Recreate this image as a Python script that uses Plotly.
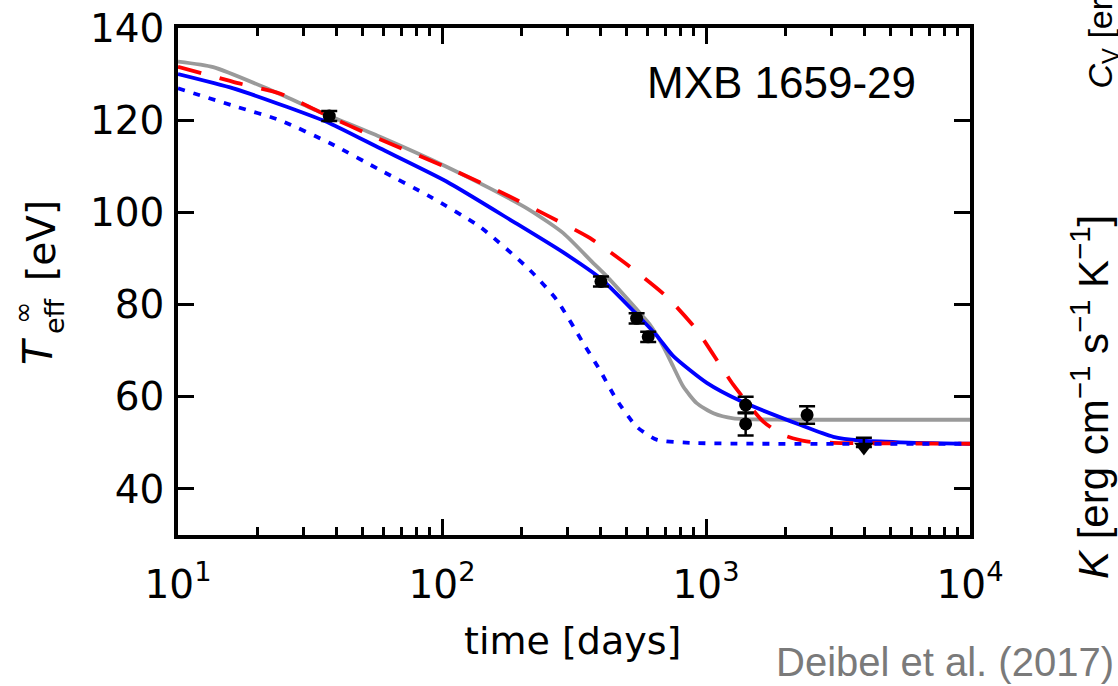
import plotly.graph_objects as go

# --- model cooling curves (time in days, T_eff^inf in eV) ---
gray_t = [10, 13.6, 22.3, 34.5, 58.2, 104, 152, 215, 288, 374, 421, 563, 610, 689, 752, 820, 922, 1067, 1270, 2000, 10000]
gray_T = [132.7, 131.5, 126.6, 121.8, 116.4, 109.9, 105.2, 100.5, 95.5, 89.0, 86.1, 78.1, 75.8, 70.9, 66.5, 62.2, 58.6, 56.4, 55.3, 55.0, 55.0]

blue_t = [10, 16.2, 25.8, 37.7, 58.2, 104, 186, 288, 400, 546, 650, 752, 1007, 1360, 2270, 3037, 3830, 5430, 10000]
blue_T = [130.0, 126.9, 122.9, 119.3, 113.9, 106.7, 98.0, 91.3, 85.6, 77.9, 73.3, 68.8, 63.0, 59.0, 53.9, 51.3, 50.5, 50.1, 49.8]

red_t = [10, 16.7, 24.3, 36.5, 53.3, 114, 171, 249, 364, 515, 710, 922, 1130, 1268, 1648, 1963, 2406, 3037, 10000]
red_T = [131.6, 128.1, 125.8, 121.1, 116.8, 108.8, 104.1, 99.4, 94.4, 88.2, 81.7, 74.5, 66.9, 62.6, 54.6, 51.7, 50.3, 50.0, 49.8]

dot_t = [10, 16.7, 24.3, 37.7, 58.2, 90.1, 139, 215, 272, 343, 396, 459, 546, 650, 869, 10000]
dot_T = [126.9, 122.9, 120.0, 115.0, 109.2, 103.4, 96.9, 87.5, 81.0, 71.6, 65.8, 59.3, 53.5, 50.7, 50.0, 49.8]

# --- observations ---
obs_t = [37.4, 400, 546, 604, 1413, 1413, 2415]
obs_T = [120.9, 85.0, 77.0, 73.0, 58.2, 54.1, 56.05]
obs_err = [1.1, 1.1, 1.1, 1.1, 1.8, 2.5, 1.9]

lim_t = [3963]
lim_T = [49.1]
lim_err = [2.0]

x_tickvals = [10, 100, 1000, 10000]
x_ticktext = ["10<sup>1</sup>", "10<sup>2</sup>", "10<sup>3</sup>", "10<sup>4</sup>"]
y_tickvals = [40, 60, 80, 100, 120, 140]
minor_vals = [m * 10 ** d for d in range(1, 4) for m in range(2, 10)]

TICKFONT = dict(family="DejaVu Sans", size=39, color="black")
SANS = "Liberation Sans"
LW = 3.8

fig = go.Figure()
fig.add_trace(go.Scatter(x=gray_t, y=gray_T, mode="lines", line=dict(color="#9a9a9a", width=LW, shape="spline", smoothing=0.6)))
fig.add_trace(go.Scatter(x=blue_t, y=blue_T, mode="lines", line=dict(color="#0000ff", width=LW, shape="spline", smoothing=0.6)))
fig.add_trace(go.Scatter(x=red_t, y=red_T, mode="lines", line=dict(color="#ff0000", width=LW, dash="24px,19px", shape="spline", smoothing=0.6)))
fig.add_trace(go.Scatter(x=dot_t, y=dot_T, mode="lines", line=dict(color="#0000ff", width=LW, dash="7px,9px", shape="spline", smoothing=0.6)))

fig.add_trace(go.Scatter(
    x=obs_t, y=obs_T, mode="markers",
    marker=dict(symbol="circle", size=13, color="black"),
    error_y=dict(type="data", array=obs_err, color="black", thickness=2.5, width=8),
))
fig.add_trace(go.Scatter(
    x=lim_t, y=lim_T, mode="markers",
    marker=dict(symbol="triangle-down", size=17, color="black"),
    error_y=dict(type="data", symmetric=False, array=lim_err, arrayminus=[0], color="black", thickness=2.5, width=8),
))

# plot area in pixels: x 178..970, y 28..535
def px(x):
    return (x - 178) / 792


def py(y):
    return (535 - y) / 507


ann = []
ann.append(dict(x=px(918), y=py(82), text="MXB 1659-29", xanchor="right", yanchor="middle",
                font=dict(family=SANS, size=44, color="black")))
ann.append(dict(x=px(572), y=py(641), text="time [days]", xanchor="center", yanchor="middle",
                font=dict(family="DejaVu Sans", size=38, color="black")))
# stacked y-axis label pieces
ann.append(dict(x=px(41), y=py(241), text="[eV]", textangle=-90, xanchor="center", yanchor="middle",
                font=dict(family="DejaVu Sans", size=39, color="black")))
ann.append(dict(x=px(38), y=py(351), text="<i>T</i>", textangle=-90, xanchor="center", yanchor="middle",
                font=dict(family="DejaVu Sans", size=40, color="black")))
ann.append(dict(x=px(54), y=py(316), text="eff", textangle=-90, xanchor="center", yanchor="middle",
                font=dict(family="DejaVu Sans", size=27, color="black")))
ann.append(dict(x=px(22), y=py(313), text="∞", textangle=-90, xanchor="center", yanchor="middle",
                font=dict(family="DejaVu Sans", size=27, color="black")))
# neighbouring panel labels and citation
ann.append(dict(x=px(1090), y=py(397), text="<i>K</i> [erg cm<sup>−1</sup> s<sup>−1</sup> K<sup>−1</sup>]",
                textangle=-90, xanchor="center", yanchor="middle",
                font=dict(family=SANS, size=42, color="black")))
ann.append(dict(x=px(1100), y=py(91), text="<i>C</i><sub>V</sub> [erg cm<sup>−3</sup> K<sup>−1</sup>]",
                textangle=-90, xanchor="center", yanchor="bottom",
                font=dict(family=SANS, size=34, color="black")))
ann.append(dict(x=px(1116), y=py(662), text="Deibel et al. (2017)", xanchor="right", yanchor="middle",
                font=dict(family=SANS, size=40, color="#7a7a7a")))
for a in ann:
    a.update(xref="paper", yref="paper", showarrow=False)

fig.update_layout(
    width=1118, height=686,
    margin=dict(l=178, r=148, t=28, b=151, pad=0),
    paper_bgcolor="white", plot_bgcolor="white",
    showlegend=False,
    annotations=ann,
    xaxis=dict(
        type="log", range=[1, 4], tickmode="array", tickvals=x_tickvals, ticktext=x_ticktext,
        ticks="inside", ticklen=16, tickwidth=3, tickcolor="black", mirror="allticks",
        showline=True, linewidth=3.5, linecolor="black", showgrid=False, zeroline=False,
        tickfont=TICKFONT, ticklabelstandoff=12, automargin=False,
        minor=dict(tickmode="array", tickvals=minor_vals, ticks="inside", ticklen=8, tickwidth=2.5,
                   tickcolor="black", showgrid=False),
    ),
    yaxis=dict(
        range=[30, 140], tickmode="array", tickvals=y_tickvals,
        ticks="inside", ticklen=16, tickwidth=3, tickcolor="black", mirror="allticks",
        showline=True, linewidth=3.5, linecolor="black", showgrid=False, zeroline=False,
        tickfont=TICKFONT, ticklabelstandoff=2, automargin=False,
    ),
)

fig.write_html("out.html")
